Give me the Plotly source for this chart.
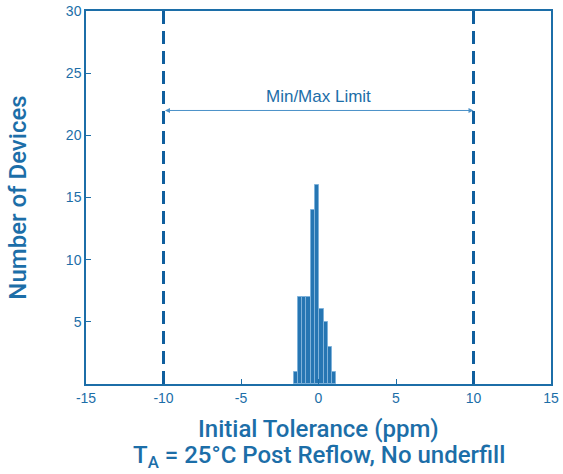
import plotly.graph_objects as go

# Data
bin_centers = [-1.46, -1.19, -0.91, -0.64, -0.36, -0.09, 0.19, 0.46, 0.74, 1.01]
counts = [1, 7, 7, 7, 14, 16, 6, 5, 3, 1]
bin_width = 0.275
limits = [-10, 10]
x_ticks = [-15, -10, -5, 0, 5, 10, 15]
x_tick_labels = ["-15", "-10", "-5", "0", "5", "10", "15"]
y_ticks = [5, 10, 15, 20, 25, 30]

blue = "#1c6ea8"
tickfont = dict(family="Liberation Sans, Arial", size=14, color=blue)
titlefont = dict(family="Roboto", size=24, color=blue, weight=500)
fig = go.Figure()
fig.add_trace(go.Bar(x=bin_centers, y=counts, width=bin_width,
                     marker=dict(color="#2676b3", line=dict(color="#7fb2da", width=1)),
                     showlegend=False))
for lx in limits:
    fig.add_shape(type="line", x0=lx, x1=lx, y0=0, y1=30, xref="x", yref="y",
                  line=dict(color="#0f5f9e", width=3, dash="13px,7px"))
fig.add_annotation(x=limits[1], y=22, ax=limits[0], ay=22, xref="x", yref="y",
                   axref="x", ayref="y", text="", showarrow=True,
                   arrowhead=2, arrowside="end+start", arrowsize=1, arrowwidth=1,
                   arrowcolor="#4a90c8")
fig.add_annotation(x=0, y=23.1, xref="x", yref="y", text="Min/Max Limit", showarrow=False,
                   yanchor="middle", font=dict(family="Liberation Sans, Arial", size=17, color=blue))
fig.add_annotation(x=0.5, y=-0.12, xref="paper", yref="paper",
                   text="Initial Tolerance (ppm)",
                   showarrow=False, yanchor="middle", font=titlefont)
fig.add_annotation(x=0.5, y=-0.195, xref="paper", yref="paper",
                   text="T<sub>A</sub> = 25°C Post Reflow, No underfill",
                   showarrow=False, yanchor="middle", font=titlefont)
fig.update_layout(
    width=563, height=474, plot_bgcolor="white", paper_bgcolor="white",
    margin=dict(l=86, r=12, t=11, b=90, autoexpand=False), bargap=0,
    xaxis=dict(range=[-15, 15], tickvals=x_ticks, ticktext=x_tick_labels,
               ticks="inside", ticklen=5,
               tickcolor=blue, linecolor=blue, linewidth=1.5, mirror=True,
               showgrid=False, zeroline=False, tickfont=tickfont),
    yaxis=dict(range=[0, 30], tickvals=y_ticks, ticks="inside", ticklen=5,
               tickcolor=blue, linecolor=blue, linewidth=1.5, mirror=True,
               showgrid=False, zeroline=False,
               title=dict(text="Number of Devices", standoff=32, font=titlefont),
               tickfont=tickfont),
)
fig.write_html("out.html", config={"displayModeBar": False},
               post_script="document.body.style.margin='0';")
